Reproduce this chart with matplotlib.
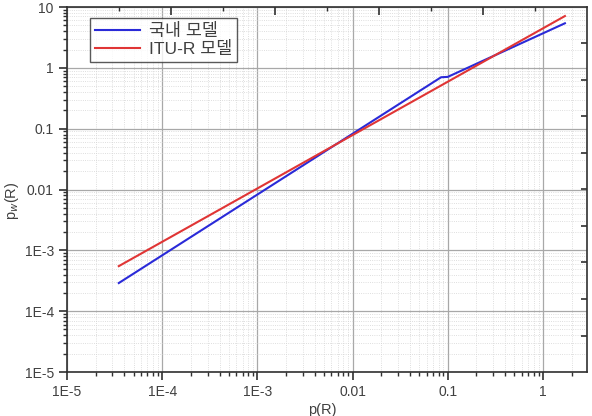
import matplotlib.pyplot as plt
from matplotlib.ticker import LogLocator, FixedLocator, NullFormatter
import numpy as np

plt.rcParams['font.family'] = ['Liberation Sans', 'Noto Sans CJK KR', 'DejaVu Sans']

# data
korea_x = [3.5e-5, 0.085, 0.1, 1.7]
korea_y = [2.9e-4, 0.70, 0.71, 5.4]
itu_x = [3.5e-5, 1.7]
itu_y = [5.5e-4, 7.1]

legend_labels = ['국내 모델', 'ITU-R 모델']
x_ticks = [1e-5, 1e-4, 1e-3, 1e-2, 1e-1, 1]
x_tick_labels = ['1E-5', '1E-4', '1E-3', '0.01', '0.1', '1']
y_ticks = [1e-5, 1e-4, 1e-3, 1e-2, 1e-1, 1, 10]
y_tick_labels = ['1E-5', '1E-4', '1E-3', '0.01', '0.1', '1', '10']

text_color = '#404040'

fig = plt.figure(figsize=(5.92, 4.16), dpi=100)
ax = fig.add_axes([67 / 592, 44 / 416, 520 / 592, 365 / 416])

ax.plot(korea_x, korea_y, color='#2a2ad8', lw=1.5, label=legend_labels[0], zorder=3)
ax.plot(itu_x, itu_y, color='#e03535', lw=1.5, label=legend_labels[1], zorder=3)

ax.set_xscale('log')
ax.set_yscale('log')
ax.set_xlim(1e-5, 2.9)
ax.set_ylim(1e-5, 10)

ax.set_xticks(x_ticks)
ax.set_xticklabels(x_tick_labels)
ax.set_yticks(y_ticks)
ax.set_yticklabels(y_tick_labels)
ax.xaxis.set_minor_locator(LogLocator(base=10, subs=np.arange(2, 10)))
ax.yaxis.set_minor_locator(LogLocator(base=10, subs=np.arange(2, 10)))
ax.xaxis.set_minor_formatter(NullFormatter())
ax.yaxis.set_minor_formatter(NullFormatter())

ax.tick_params(which='major', direction='out', length=6, width=1.2,
               labelsize=10, labelcolor=text_color, color='#303030')
ax.tick_params(which='minor', direction='out', length=3, width=1.0, color='#303030')

ax.grid(True, which='major', color='#a8a8a8', lw=0.9, zorder=0)
ax.grid(True, which='minor', color='#d4d4d4', lw=0.6, ls=':', zorder=0)

for s in ax.spines.values():
    s.set_color('#303030')
    s.set_linewidth(1.2)

# top and right axes with their own (linear) ticks, as in the original
top = ax.twiny()
top.set_xlim(0, 1)
top.xaxis.set_major_locator(FixedLocator([0.2, 0.4, 0.6, 0.8]))
top.xaxis.set_minor_locator(FixedLocator([0.1, 0.3, 0.5, 0.7, 0.9]))
top.tick_params(which='major', direction='in', length=6, width=1.2, labeltop=False, color='#303030')
top.tick_params(which='minor', direction='in', length=3, width=1.0, color='#303030')
right = ax.twinx()
right.set_ylim(0, 1)
right.yaxis.set_major_locator(FixedLocator(np.arange(0.1, 1.0, 0.1)))
right.tick_params(direction='in', length=4, width=1.2, labelright=False, color='#303030')
for a in (top, right):
    for s in a.spines.values():
        s.set_visible(False)

ax.set_xlabel('p(R)', fontsize=10.5, color=text_color)
ax.xaxis.set_label_coords(0.49, -0.085)
ax.set_ylabel('p$_w$(R)', fontsize=10.5, color=text_color)
ax.yaxis.set_label_coords(-0.088, 0.47)

leg = ax.legend(loc='upper left', bbox_to_anchor=(0.044, 0.97), fontsize=12.5,
                frameon=True, fancybox=False, edgecolor='#303030',
                handlelength=2.6, handletextpad=0.5, borderpad=0.3,
                labelspacing=0.1, borderaxespad=0)
leg.get_frame().set_linewidth(1.0)
for t in leg.get_texts():
    t.set_color(text_color)
leg.set_zorder(5)

fig.savefig('out.png', dpi=100)
